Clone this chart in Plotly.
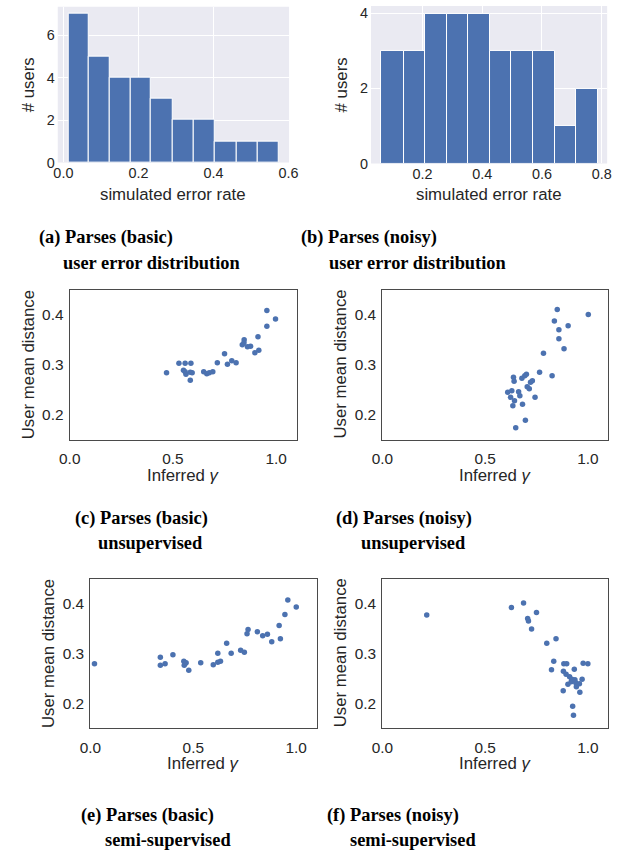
import numpy as np
import plotly.graph_objects as go

# ---------------- data ----------------
# (a) Parses (basic): histogram of simulated error rate
hist_a_edges = [0.013, 0.067, 0.123, 0.179, 0.234, 0.291, 0.348, 0.403, 0.462, 0.517, 0.573]
hist_a_counts = [7, 5, 4, 4, 3, 2, 2, 1, 1, 1]

# (b) Parses (noisy): histogram of simulated error rate
hist_b_edges = [0.063, 0.138, 0.208, 0.281, 0.353, 0.425, 0.497, 0.569, 0.643, 0.714, 0.786]
hist_b_counts = [3, 3, 4, 4, 4, 3, 3, 3, 1, 2]

# (c) Parses (basic) unsupervised
c_gamma = [0.469, 0.529, 0.559, 0.587, 0.551, 0.559, 0.563, 0.584, 0.593, 0.584,
           0.649, 0.664, 0.676, 0.693, 0.715, 0.750, 0.764, 0.785, 0.806, 0.836,
           0.845, 0.844, 0.861, 0.876, 0.897, 0.916, 0.912, 0.955, 0.955, 0.997]
c_dist = [0.284, 0.303, 0.303, 0.303, 0.289, 0.286, 0.281, 0.285, 0.284, 0.269,
          0.286, 0.282, 0.284, 0.286, 0.304, 0.322, 0.301, 0.308, 0.304, 0.340,
          0.350, 0.344, 0.336, 0.337, 0.324, 0.329, 0.356, 0.377, 0.408, 0.391]

# (d) Parses (noisy) unsupervised
d_gamma = [0.851, 1.002, 0.837, 0.859, 0.859, 0.904, 0.884, 0.784, 0.765, 0.826,
           0.638, 0.641, 0.679, 0.693, 0.701, 0.721, 0.730, 0.705, 0.715, 0.743,
           0.610, 0.630, 0.624, 0.663, 0.669, 0.643, 0.635, 0.682, 0.696, 0.649]
d_dist = [0.410, 0.400, 0.387, 0.370, 0.352, 0.378, 0.332, 0.323, 0.285, 0.278,
          0.275, 0.267, 0.273, 0.278, 0.281, 0.265, 0.268, 0.256, 0.252, 0.235,
          0.245, 0.248, 0.235, 0.246, 0.238, 0.228, 0.218, 0.221, 0.189, 0.174]

# (e) Parses (basic) semi-supervised
e_gamma = [0.020, 0.340, 0.340, 0.363, 0.401, 0.454, 0.462, 0.456, 0.465, 0.478,
           0.536, 0.597, 0.619, 0.632, 0.619, 0.662, 0.684, 0.730, 0.748, 0.761,
           0.766, 0.811, 0.837, 0.860, 0.881, 0.917, 0.923, 0.945, 0.959, 1.000]
e_dist = [0.279, 0.292, 0.276, 0.279, 0.297, 0.284, 0.280, 0.276, 0.281, 0.266,
          0.281, 0.277, 0.282, 0.284, 0.300, 0.320, 0.300, 0.306, 0.302, 0.339,
          0.348, 0.343, 0.335, 0.338, 0.323, 0.356, 0.329, 0.378, 0.407, 0.393]

# (f) Parses (noisy) semi-supervised
f_gamma = [0.216, 0.628, 0.687, 0.707, 0.711, 0.750, 0.726, 0.800, 0.845, 0.834,
           0.823, 0.883, 0.897, 0.977, 1.000, 0.881, 0.894, 0.934, 0.911, 0.922,
           0.919, 0.937, 0.941, 0.972, 0.903, 0.959, 0.944, 0.880, 0.961, 0.926, 0.930]
f_dist = [0.377, 0.392, 0.401, 0.370, 0.365, 0.382, 0.349, 0.320, 0.329, 0.284,
          0.267, 0.279, 0.279, 0.280, 0.279, 0.264, 0.258, 0.268, 0.253, 0.248,
          0.243, 0.247, 0.241, 0.248, 0.238, 0.239, 0.233, 0.225, 0.222, 0.194, 0.176]

captions = [
    ("(a) Parses (basic)", "user error distribution"),
    ("(b) Parses (noisy)", "user error distribution"),
    ("(c) Parses (basic)", "unsupervised"),
    ("(d) Parses (noisy)", "unsupervised"),
    ("(e) Parses (basic)", "semi-supervised"),
    ("(f) Parses (noisy)", "semi-supervised"),
]

# ---------------- layout helpers ----------------
W, H = 621, 853
BLUE = "#4C72B0"
TXT = "#262626"
SANS = "Liberation Sans, Arial, sans-serif"
SERIF = "Liberation Serif, Times New Roman, serif"


def px(x):
    return x / W


def py(y):
    return 1 - y / H


# plot boxes in page pixels: (left, right, top, bottom)
boxes = {
    1: (48.3, 287.3, 6.7, 164.0),
    2: (372.0, 616.0, 6.0, 165.0),
    3: (60.7, 295.3, 292.3, 444.0),
    4: (383.7, 617.3, 292.3, 444.0),
    5: (82.0, 316.0, 584.0, 735.0),
    6: (383.7, 617.3, 584.0, 735.0),
}

fig = go.Figure()

# histograms
for i, (edges, counts) in enumerate([(hist_a_edges, hist_a_counts), (hist_b_edges, hist_b_counts)], start=1):
    e = np.array(edges)
    fig.add_trace(go.Bar(
        x=e[:-1], y=counts, width=np.diff(e), offset=0,
        marker=dict(color=BLUE, line=dict(color="white", width=1)),
        xaxis=f"x{i}" if i > 1 else "x", yaxis=f"y{i}" if i > 1 else "y",
        showlegend=False,
    ))

# scatters
for i, (gx, gy) in enumerate([(c_gamma, c_dist), (d_gamma, d_dist), (e_gamma, e_dist), (f_gamma, f_dist)], start=3):
    fig.add_trace(go.Scatter(
        x=gx, y=gy, mode="markers",
        marker=dict(color=BLUE, size=5.5, line=dict(width=0)),
        xaxis=f"x{i}", yaxis=f"y{i}", showlegend=False,
    ))

layout = dict(
    width=W, height=H,
    margin=dict(l=0, r=0, t=0, b=0),
    paper_bgcolor="white", plot_bgcolor="white",
    bargap=0,
    font=dict(family=SANS, color=TXT, size=14),
)

hist_tickfont = dict(family=SANS, size=14.4, color=TXT)
sc_tickfont = dict(family=SANS, size=15.4, color=TXT)

hist_x_ranges = {1: [-0.015, 0.6015], 2: [0.028, 0.818]}
hist_y_ranges = {1: [0, 7.35], 2: [0, 4.2]}
hist_x_ticks = {1: [0.0, 0.2, 0.4, 0.6], 2: [0.2, 0.4, 0.6, 0.8]}
hist_y_ticks = {1: [0, 2, 4, 6], 2: [0, 2, 4]}

for i, (l, r, t, b) in boxes.items():
    xk = "xaxis" if i == 1 else f"xaxis{i}"
    yk = "yaxis" if i == 1 else f"yaxis{i}"
    xa = "x" if i == 1 else f"x{i}"
    ya = "y" if i == 1 else f"y{i}"
    if i <= 2:
        layout[xk] = dict(domain=[px(l), px(r)], anchor=ya, range=hist_x_ranges[i],
                          tickvals=hist_x_ticks[i], ticktext=[f"{v:.1f}" for v in hist_x_ticks[i]],
                          showgrid=True, gridcolor="white", gridwidth=1, zeroline=False,
                          showline=False, ticks="", tickfont=hist_tickfont, ticklabelstandoff=0)
        layout[yk] = dict(domain=[py(b), py(t)], anchor=xa, range=hist_y_ranges[i],
                          tickvals=hist_y_ticks[i], showgrid=True, gridcolor="white", gridwidth=1,
                          zeroline=False, showline=False, ticks="", tickfont=hist_tickfont,
                          ticklabelstandoff=2)
    else:
        layout[xk] = dict(domain=[px(l), px(r)], anchor=ya, range=[0, 1.1],
                          tickvals=[0.0, 0.5, 1.0], ticktext=["0.0", "0.5", "1.0"],
                          showgrid=False, zeroline=False, showline=True, mirror=True,
                          linecolor="#4a4a4a", linewidth=1.3, ticks="", tickfont=sc_tickfont,
                          ticklabelstandoff=5)
        layout[yk] = dict(domain=[py(b), py(t)], anchor=xa, range=[0.15, 0.45],
                          tickvals=[0.2, 0.3, 0.4], ticktext=["0.2", "0.3", "0.4"],
                          showgrid=False, zeroline=False, showline=True, mirror=True,
                          linecolor="#4a4a4a", linewidth=1.3, ticks="", tickfont=sc_tickfont,
                          ticklabelstandoff=2)

fig.update_layout(**layout)

# histogram backgrounds
for i in (1, 2):
    xa = "x" if i == 1 else f"x{i}"
    ya = "y" if i == 1 else f"y{i}"
    fig.add_shape(type="rect", xref=f"{xa} domain", yref=f"{ya} domain",
                  x0=0, x1=1, y0=0, y1=1, fillcolor="#EAEAF2", line=dict(width=0), layer="below")

# axis titles
axis_title_font = dict(family=SANS, size=16.8, color=TXT)
xtitles = {
    1: ("simulated error rate", 167.8, 196.0),
    2: ("simulated error rate", 494.0, 196.0),
    3: ("Inferred <i>γ</i>", 178.0, 480.5),
    4: ("Inferred <i>γ</i>", 500.5, 480.5),
    5: ("Inferred <i>γ</i>", 199.0, 770.5),
    6: ("Inferred <i>γ</i>", 500.5, 770.5),
}
ytitles = {
    1: ("# users", 18.3, 85.4),
    2: ("# users", 341.7, 85.5),
    3: ("User mean distance", 18.3, 368.0),
    4: ("User mean distance", 340.0, 368.0),
    5: ("User mean distance", 39.0, 659.5),
    6: ("User mean distance", 340.0, 659.5),
}
for txt, x, y in xtitles.values():
    fig.add_annotation(text=txt, x=px(x), y=py(y), xref="paper", yref="paper",
                       xanchor="center", yanchor="middle", showarrow=False, font=axis_title_font)
for txt, x, y in ytitles.values():
    fig.add_annotation(text=txt, x=px(x), y=py(y), xref="paper", yref="paper", textangle=-90,
                       xanchor="center", yanchor="middle", showarrow=False, font=axis_title_font)

# captions (two lines each)
cap_pos = [
    ((27, 240), (52, 265)),
    ((298, 240), (326, 265)),
    ((64, 523), (88, 548)),
    ((334, 523), (360, 548)),
    ((70, 823), (95, 848)),
    ((324, 823), (348, 848)),
]
cap_font = dict(family=SERIF, size=18.4, color="black")
for (l1, l2), ((x1, y1), (x2, y2)) in zip(captions, cap_pos):
    fig.add_annotation(text=f"<b>{l1}</b>", x=px(x1), y=py(y1), xref="paper", yref="paper",
                       xanchor="left", yanchor="middle", showarrow=False, font=cap_font)
    fig.add_annotation(text=f"<b>{l2}</b>", x=px(x2), y=py(y2), xref="paper", yref="paper",
                       xanchor="left", yanchor="middle", showarrow=False, font=cap_font)

fig.write_html(
    "out.html",
    config={"displayModeBar": False},
    post_script="document.body.style.margin='0';document.body.style.overflow='hidden';",
)
